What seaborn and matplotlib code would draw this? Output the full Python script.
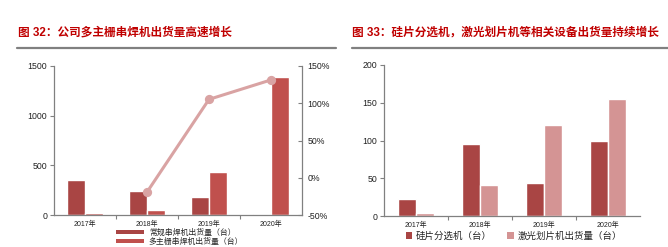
import matplotlib
matplotlib.use("Agg")
import matplotlib.pyplot as plt
from matplotlib.lines import Line2D
from matplotlib.patches import Patch
import seaborn as sns
import pandas as pd
import numpy as np

# ---------------- data ----------------
years = ["2017年", "2018年", "2019年", "2020年"]

left_series = ["常规串焊机出货量（台）", "多主栅串焊机出货量（台）"]
conventional = [350, 245, 180, 12]
multi_busbar = [22, 50, 433, 1390]
growth_years = ["2018年", "2019年", "2020年"]
growth_pct = [-19, 105, 131]

right_series = ["硅片分选机（台）", "激光划片机出货量（台）"]
sorter = [22, 95, 44, 100]
laser = [4, 41, 120, 155]

left_yticks = [0, 500, 1000, 1500]
right2_yticks = [-50, 0, 50, 100, 150]
right_yticks = [0, 50, 100, 150, 200]

title_left = "图 32：公司多主栅串焊机出货量高速增长"
title_right = "图 33：硅片分选机，激光划片机等相关设备出货量持续增长"

# ---------------- style ----------------
sns.set_theme(style="white")
plt.rcParams["font.family"] = ["Liberation Sans", "Noto Sans CJK SC", "DejaVu Sans"]

DARK = "#A94544"
MID = "#C0504D"
PINK = "#D49494"
LINE = "#D9A3A3"
GRAY = "#808080"
TITLE = "#C00000"

W, H = 668, 247
fig = plt.figure(figsize=(W / 100, H / 100), dpi=100)


def fx(px):
    return px / W


def fy(py):
    return 1 - py / H


# titles and rules
fig.text(fx(18), fy(33), title_left, fontsize=8.4, fontweight="bold", color=TITLE, va="center", ha="left")
fig.text(fx(352), fy(33), title_right, fontsize=8.4, fontweight="bold", color=TITLE, va="center", ha="left")
fig.add_artist(Line2D([fx(17), fx(336)], [fy(48), fy(48)], color=GRAY, lw=1.6))
fig.add_artist(Line2D([fx(352), fx(668)], [fy(48), fy(48)], color=GRAY, lw=1.6))

# ---------------- left chart ----------------
axL = fig.add_axes([fx(54), fy(215.3), fx(302) - fx(54), fy(65.7) - fy(215.3)])
dfL = pd.DataFrame({
    "year": years * 2,
    "series": [left_series[0]] * 4 + [left_series[1]] * 4,
    "value": conventional + multi_busbar,
})
sns.barplot(data=dfL, x="year", y="value", hue="series", order=years, hue_order=left_series,
            palette=[DARK, MID], saturation=1, width=0.57, ax=axL, legend=False)
axL.set_ylim(0, 1500)
axL.set_xlim(-0.5, 3.5)
axL.set_yticks(left_yticks)
axL.set_yticklabels([str(v) for v in left_yticks], fontsize=6.3, color="#222222")
axL.set_xlabel("")
axL.set_ylabel("")

ax2 = axL.twinx()
dfG = pd.DataFrame({"year": growth_years, "growth": growth_pct})
sns.pointplot(data=dfG, x="year", y="growth", order=years, color=LINE, errorbar=None,
              markers="o", markersize=5, linewidth=2.2, ax=ax2)
ax2.set_ylim(-50, 150)
ax2.set_xlim(-0.5, 3.5)
ax2.set_yticks(right2_yticks)
ax2.set_yticklabels([f"{v}%" for v in right2_yticks], fontsize=6.3, color="#222222")
ax2.set_ylabel("")
ax2.set_xlabel("")

axL.set_xticks(range(len(years)))
axL.set_xticklabels(years, fontsize=5.0, color="#222222")
axL.set_xticks([0.5, 1.5, 2.5], minor=True)

for a in (axL, ax2):
    a.spines["top"].set_visible(False)
    for s in ("left", "right", "bottom"):
        a.spines[s].set_color(GRAY)
        a.spines[s].set_linewidth(0.9)
    a.grid(False)
axL.spines["right"].set_visible(False)
ax2.spines["left"].set_visible(False)
ax2.spines["bottom"].set_visible(False)

axL.tick_params(axis="y", which="major", left=True, length=3, width=0.8, color=GRAY, pad=2, direction="out")
axL.tick_params(axis="x", which="major", bottom=False, length=0, pad=4)
axL.tick_params(axis="x", which="minor", bottom=True, length=3, width=0.8, color=GRAY, direction="out")
ax2.tick_params(axis="y", which="major", right=True, length=3, width=0.8, color=GRAY, pad=4, direction="in")

handlesL = [Patch(facecolor=DARK, edgecolor="none"), Patch(facecolor=MID, edgecolor="none")]
legL = fig.legend(handlesL, left_series, loc="upper left",
                  bbox_to_anchor=(fx(112), fy(223.5)), frameon=False, ncol=1,
                  prop={"size": 5.7, "family": ["Noto Sans CJK SC"]},
                  handlelength=3.5, handleheight=0.45, handletextpad=0.6,
                  labelspacing=0.02, borderpad=0.05)

# ---------------- right chart ----------------
axR = fig.add_axes([fx(384), fy(216), fx(640) - fx(384), fy(65) - fy(216)])
dfR = pd.DataFrame({
    "year": years * 2,
    "series": [right_series[0]] * 4 + [right_series[1]] * 4,
    "value": sorter + laser,
})
sns.barplot(data=dfR, x="year", y="value", hue="series", order=years, hue_order=right_series,
            palette=[DARK, PINK], saturation=1, width=0.57, ax=axR, legend=False)
axR.set_ylim(0, 200)
axR.set_xlim(-0.5, 3.5)
axR.set_yticks(right_yticks)
axR.set_yticklabels([str(v) for v in right_yticks], fontsize=6.3, color="#222222")
axR.set_xticks(range(len(years)))
axR.set_xticklabels(years, fontsize=5.0, color="#222222")
axR.set_xticks([0.5, 1.5, 2.5], minor=True)
axR.set_xlabel("")
axR.set_ylabel("")
axR.grid(False)
for s in ("top", "right"):
    axR.spines[s].set_visible(False)
for s in ("left", "bottom"):
    axR.spines[s].set_color(GRAY)
    axR.spines[s].set_linewidth(0.9)
axR.tick_params(axis="y", which="major", left=True, length=3, width=0.8, color=GRAY, pad=2, direction="out")
axR.tick_params(axis="x", which="major", bottom=False, length=0, pad=4)
axR.tick_params(axis="x", which="minor", bottom=True, length=3, width=0.8, color=GRAY, direction="out")

handlesR = [Patch(facecolor=DARK, edgecolor="none"), Patch(facecolor=PINK, edgecolor="none")]
legR = fig.legend(handlesR, right_series, loc="center left",
                  bbox_to_anchor=(fx(400), fy(236)), frameon=False, ncol=2,
                  prop={"size": 6.8, "family": ["Noto Sans CJK SC"]},
                  handlelength=0.7, handleheight=0.7, handletextpad=0.4,
                  columnspacing=1.6, borderpad=0.1)

fig.savefig("out.png", dpi=100)
